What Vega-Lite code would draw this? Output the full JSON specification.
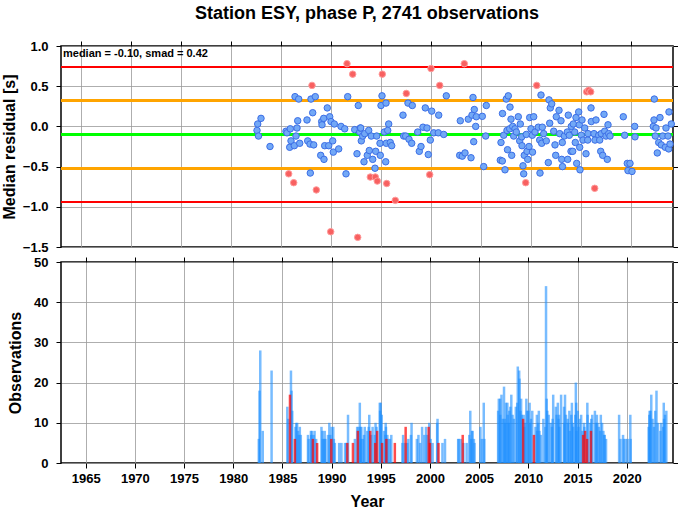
{
 "$schema": "https://vega.github.io/schema/vega-lite/v6.json",
 "padding": {"left": 0, "top": 4, "right": 1, "bottom": 0},
 "spacing": 0,
 "config": {
  "font": "Liberation Sans",
  "view": {"stroke": "#000", "strokeWidth": 1.5},
  "axis": {"labelFont": "Liberation Sans", "labelFontWeight": "bold", "labelFontSize": 13, "labelColor": "#000", "titleFont": "Liberation Sans", "titleFontSize": 16, "titleFontWeight": "bold", "titleColor": "#000", "tickColor": "#000", "tickSize": 5, "tickWidth": 1, "gridColor": "#999", "gridWidth": 0.8, "gridOpacity": 1, "domain": false}
 },
 "datasets": {
  "obs": [
   {"t":1982.6,"r":-0.05,"n":6,"k":"in"},{"t":1982.67,"r":0.03,"n":18,"k":"in"},{"t":1982.75,"r":-0.12,"n":28,"k":"in"},{"t":1983.0,"r":0.10,"n":8,"k":"in"},
   {"t":1983.9,"r":-0.25,"n":23,"k":"in"},{"t":1985.5,"r":-0.06,"n":14,"k":"in"},{"t":1985.6,"r":-0.08,"n":11,"k":"in"},{"t":1985.77,"r":-0.59,"n":17,"k":"out"},
   {"t":1985.87,"r":-0.26,"n":23,"k":"in"},{"t":1985.93,"r":-0.03,"n":18,"k":"in"},{"t":1986.0,"r":-0.18,"n":13,"k":"in"},{"t":1986.27,"r":-0.70,"n":6,"k":"out"},
   {"t":1986.33,"r":-0.24,"n":9,"k":"in"},{"t":1986.4,"r":0.37,"n":10,"k":"in"},{"t":1986.5,"r":-0.12,"n":10,"k":"in"},{"t":1986.6,"r":-0.02,"n":8,"k":"in"},
   {"t":1986.67,"r":0.07,"n":7,"k":"in"},{"t":1986.77,"r":0.34,"n":9,"k":"in"},{"t":1986.87,"r":-0.21,"n":7,"k":"in"},{"t":1987.6,"r":0.08,"n":7,"k":"in"},
   {"t":1987.67,"r":-0.18,"n":6,"k":"in"},{"t":1987.9,"r":-0.22,"n":8,"k":"in"},{"t":1987.93,"r":-0.58,"n":7,"k":"in"},{"t":1988.0,"r":0.34,"n":8,"k":"in"},
   {"t":1988.1,"r":0.51,"n":6,"k":"out"},{"t":1988.17,"r":0.17,"n":7,"k":"in"},{"t":1988.27,"r":-0.23,"n":8,"k":"in"},{"t":1988.43,"r":0.37,"n":6,"k":"in"},
   {"t":1988.53,"r":-0.79,"n":5,"k":"out"},{"t":1988.97,"r":-0.36,"n":9,"k":"in"},{"t":1989.07,"r":0.06,"n":8,"k":"in"},{"t":1989.1,"r":0.02,"n":6,"k":"in"},
   {"t":1989.27,"r":0.10,"n":6,"k":"in"},{"t":1989.3,"r":-0.41,"n":8,"k":"in"},{"t":1989.37,"r":-0.24,"n":6,"k":"in"},{"t":1989.63,"r":0.23,"n":7,"k":"in"},
   {"t":1989.77,"r":-0.24,"n":10,"k":"in"},{"t":1989.87,"r":0.12,"n":7,"k":"in"},{"t":1989.97,"r":-1.31,"n":6,"k":"out"},{"t":1990.0,"r":0.06,"n":9,"k":"in"},
   {"t":1990.17,"r":-0.18,"n":9,"k":"in"},{"t":1990.23,"r":-0.32,"n":6,"k":"in"},{"t":1990.33,"r":0.03,"n":5,"k":"in"},{"t":1990.77,"r":-0.28,"n":5,"k":"in"},
   {"t":1991.0,"r":0.0,"n":5,"k":"in"},{"t":1991.37,"r":-0.03,"n":5,"k":"in"},{"t":1991.5,"r":-0.59,"n":5,"k":"in"},{"t":1991.6,"r":0.78,"n":5,"k":"out"},
   {"t":1991.67,"r":0.37,"n":12,"k":"in"},{"t":1992.17,"r":0.65,"n":5,"k":"out"},{"t":1992.37,"r":-0.04,"n":6,"k":"in"},{"t":1992.6,"r":-0.34,"n":9,"k":"in"},
   {"t":1992.67,"r":-1.38,"n":8,"k":"out"},{"t":1992.73,"r":0.26,"n":9,"k":"in"},{"t":1992.87,"r":-0.07,"n":15,"k":"in"},{"t":1992.93,"r":-0.02,"n":9,"k":"in"},
   {"t":1992.97,"r":-0.02,"n":6,"k":"in"},{"t":1993.03,"r":-0.18,"n":9,"k":"in"},{"t":1993.17,"r":-0.12,"n":6,"k":"in"},{"t":1993.3,"r":-0.44,"n":7,"k":"in"},
   {"t":1993.37,"r":-0.09,"n":9,"k":"in"},{"t":1993.63,"r":-0.36,"n":8,"k":"in"},{"t":1993.77,"r":-0.05,"n":9,"k":"in"},{"t":1993.83,"r":-0.30,"n":12,"k":"in"},
   {"t":1993.93,"r":-0.63,"n":8,"k":"out"},{"t":1994.03,"r":-0.12,"n":7,"k":"in"},{"t":1994.17,"r":-0.41,"n":9,"k":"in"},{"t":1994.4,"r":-0.52,"n":7,"k":"in"},
   {"t":1994.43,"r":-0.63,"n":5,"k":"out"},{"t":1994.47,"r":-0.31,"n":10,"k":"in"},{"t":1994.57,"r":-0.12,"n":9,"k":"in"},{"t":1994.63,"r":-0.68,"n":8,"k":"out"},
   {"t":1994.9,"r":-0.21,"n":15,"k":"in"},{"t":1994.93,"r":-0.36,"n":13,"k":"in"},{"t":1995.0,"r":0.26,"n":15,"k":"in"},{"t":1995.1,"r":0.38,"n":12,"k":"in"},
   {"t":1995.13,"r":0.65,"n":5,"k":"out"},{"t":1995.33,"r":-0.07,"n":8,"k":"in"},{"t":1995.47,"r":-0.44,"n":7,"k":"in"},{"t":1995.5,"r":0.29,"n":10,"k":"in"},
   {"t":1995.53,"r":-0.21,"n":9,"k":"in"},{"t":1995.57,"r":-0.71,"n":6,"k":"out"},{"t":1995.67,"r":-0.05,"n":7,"k":"in"},{"t":1995.77,"r":0.03,"n":6,"k":"in"},
   {"t":1995.93,"r":-0.20,"n":6,"k":"in"},{"t":1996.07,"r":-0.24,"n":7,"k":"in"},{"t":1996.43,"r":-0.92,"n":5,"k":"out"},{"t":1997.2,"r":0.14,"n":5,"k":"in"},
   {"t":1997.27,"r":-0.12,"n":7,"k":"in"},{"t":1997.47,"r":-0.12,"n":5,"k":"in"},{"t":1997.53,"r":0.41,"n":9,"k":"out"},{"t":1997.7,"r":0.29,"n":5,"k":"in"},
   {"t":1997.8,"r":-0.16,"n":6,"k":"in"},{"t":1998.07,"r":-0.21,"n":7,"k":"in"},{"t":1998.13,"r":0.26,"n":10,"k":"in"},{"t":1998.67,"r":-0.07,"n":6,"k":"in"},
   {"t":1998.83,"r":-0.31,"n":7,"k":"in"},{"t":1999.0,"r":-0.25,"n":5,"k":"in"},{"t":1999.2,"r":-0.01,"n":9,"k":"in"},{"t":1999.43,"r":0.23,"n":7,"k":"in"},
   {"t":1999.6,"r":-0.02,"n":9,"k":"in"},{"t":1999.73,"r":-0.35,"n":7,"k":"in"},{"t":1999.87,"r":-0.60,"n":9,"k":"out"},{"t":1999.93,"r":-0.17,"n":10,"k":"in"},
   {"t":2000.0,"r":0.72,"n":5,"k":"out"},{"t":2000.07,"r":0.19,"n":6,"k":"in"},{"t":2000.27,"r":-0.08,"n":5,"k":"in"},{"t":2000.73,"r":-0.08,"n":10,"k":"in"},
   {"t":2000.77,"r":0.14,"n":11,"k":"in"},{"t":2000.87,"r":0.51,"n":5,"k":"out"},{"t":2001.27,"r":-0.10,"n":5,"k":"in"},{"t":2001.53,"r":0.38,"n":6,"k":"in"},
   {"t":2002.87,"r":-0.36,"n":6,"k":"in"},{"t":2002.93,"r":0.07,"n":6,"k":"in"},{"t":2003.13,"r":-0.37,"n":6,"k":"in"},{"t":2003.33,"r":0.78,"n":7,"k":"out"},
   {"t":2003.4,"r":-0.33,"n":5,"k":"in"},{"t":2003.73,"r":0.09,"n":5,"k":"in"},{"t":2004.0,"r":-0.39,"n":7,"k":"in"},{"t":2004.1,"r":0.14,"n":13,"k":"in"},
   {"t":2004.2,"r":0.36,"n":6,"k":"in"},{"t":2004.27,"r":-0.19,"n":8,"k":"in"},{"t":2004.33,"r":0.21,"n":8,"k":"in"},{"t":2004.47,"r":0.0,"n":6,"k":"in"},
   {"t":2004.53,"r":0.12,"n":5,"k":"in"},{"t":2005.13,"r":0.125,"n":9,"k":"in"},{"t":2005.27,"r":-0.50,"n":6,"k":"in"},{"t":2005.47,"r":-0.12,"n":15,"k":"in"},
   {"t":2005.53,"r":0.26,"n":6,"k":"in"},{"t":2006.93,"r":-0.42,"n":13,"k":"in"},{"t":2007.0,"r":-0.20,"n":16,"k":"in"},{"t":2007.13,"r":-0.43,"n":16,"k":"in"},
   {"t":2007.15,"r":0.16,"n":12,"k":"in"},{"t":2007.27,"r":-0.11,"n":17,"k":"in"},{"t":2007.4,"r":-0.54,"n":11,"k":"in"},{"t":2007.53,"r":0.34,"n":19,"k":"in"},
   {"t":2007.6,"r":-0.05,"n":11,"k":"in"},{"t":2007.65,"r":-0.29,"n":10,"k":"in"},{"t":2007.73,"r":0.38,"n":15,"k":"in"},{"t":2007.87,"r":-0.03,"n":15,"k":"in"},
   {"t":2007.9,"r":0.24,"n":12,"k":"in"},{"t":2008.0,"r":0.09,"n":10,"k":"in"},{"t":2008.07,"r":-0.36,"n":13,"k":"in"},{"t":2008.17,"r":0.0,"n":14,"k":"in"},
   {"t":2008.27,"r":-0.12,"n":17,"k":"in"},{"t":2008.4,"r":-0.03,"n":12,"k":"in"},{"t":2008.53,"r":-0.07,"n":11,"k":"in"},{"t":2008.73,"r":0.12,"n":14,"k":"in"},
   {"t":2008.87,"r":-0.18,"n":15,"k":"in"},{"t":2008.93,"r":0.03,"n":24,"k":"in"},{"t":2009.07,"r":-0.13,"n":23,"k":"in"},{"t":2009.1,"r":-0.24,"n":21,"k":"in"},
   {"t":2009.2,"r":-0.49,"n":13,"k":"in"},{"t":2009.27,"r":-0.59,"n":16,"k":"in"},{"t":2009.33,"r":-0.36,"n":12,"k":"in"},{"t":2009.47,"r":-0.70,"n":11,"k":"out"},
   {"t":2009.53,"r":-0.10,"n":12,"k":"in"},{"t":2009.6,"r":-0.31,"n":9,"k":"in"},{"t":2009.67,"r":-0.41,"n":10,"k":"in"},{"t":2009.8,"r":-0.25,"n":16,"k":"in"},
   {"t":2009.87,"r":0.11,"n":13,"k":"in"},{"t":2010.0,"r":-0.03,"n":13,"k":"in"},{"t":2010.13,"r":-0.11,"n":15,"k":"in"},{"t":2010.15,"r":-0.32,"n":10,"k":"in"},
   {"t":2010.27,"r":0.12,"n":11,"k":"in"},{"t":2010.4,"r":-0.07,"n":13,"k":"in"},{"t":2010.57,"r":0.51,"n":7,"k":"out"},{"t":2010.73,"r":-0.01,"n":9,"k":"in"},
   {"t":2010.87,"r":-0.17,"n":12,"k":"in"},{"t":2010.9,"r":-0.58,"n":8,"k":"in"},{"t":2011.0,"r":0.39,"n":10,"k":"in"},{"t":2011.07,"r":-0.21,"n":13,"k":"in"},
   {"t":2011.13,"r":-0.01,"n":8,"k":"in"},{"t":2011.27,"r":-0.09,"n":7,"k":"in"},{"t":2011.53,"r":-0.18,"n":11,"k":"in"},{"t":2011.73,"r":-0.45,"n":9,"k":"in"},
   {"t":2011.8,"r":0.33,"n":44,"k":"in"},{"t":2011.87,"r":0.04,"n":16,"k":"in"},{"t":2011.93,"r":0.23,"n":13,"k":"in"},{"t":2012.07,"r":0.28,"n":12,"k":"in"},
   {"t":2012.27,"r":-0.06,"n":10,"k":"in"},{"t":2012.4,"r":-0.23,"n":9,"k":"in"},{"t":2012.47,"r":-0.36,"n":11,"k":"in"},{"t":2012.53,"r":0.12,"n":17,"k":"in"},
   {"t":2012.8,"r":0.20,"n":14,"k":"in"},{"t":2012.87,"r":-0.09,"n":12,"k":"in"},{"t":2013.0,"r":0.07,"n":15,"k":"in"},{"t":2013.07,"r":-0.41,"n":11,"k":"in"},
   {"t":2013.13,"r":-0.20,"n":12,"k":"in"},{"t":2013.15,"r":-0.50,"n":9,"k":"in"},{"t":2013.33,"r":-0.12,"n":17,"k":"in"},{"t":2013.63,"r":-0.07,"n":14,"k":"in"},
   {"t":2013.67,"r":-0.41,"n":10,"k":"in"},{"t":2013.73,"r":0.14,"n":17,"k":"in"},{"t":2013.83,"r":-0.11,"n":12,"k":"in"},{"t":2014.0,"r":-0.31,"n":11,"k":"in"},
   {"t":2014.03,"r":0.0,"n":10,"k":"in"},{"t":2014.17,"r":-0.31,"n":13,"k":"in"},{"t":2014.23,"r":0.03,"n":8,"k":"in"},{"t":2014.37,"r":-0.07,"n":12,"k":"in"},
   {"t":2014.43,"r":-0.20,"n":15,"k":"in"},{"t":2014.5,"r":0.11,"n":10,"k":"in"},{"t":2014.57,"r":-0.46,"n":9,"k":"in"},{"t":2014.77,"r":0.18,"n":12,"k":"in"},
   {"t":2014.83,"r":0.02,"n":20,"k":"in"},{"t":2014.87,"r":-0.26,"n":15,"k":"in"},{"t":2014.9,"r":-0.54,"n":8,"k":"in"},{"t":2015.03,"r":-0.11,"n":13,"k":"in"},
   {"t":2015.1,"r":0.08,"n":9,"k":"in"},{"t":2015.2,"r":-0.17,"n":11,"k":"in"},{"t":2015.37,"r":-0.02,"n":12,"k":"in"},{"t":2015.5,"r":-0.34,"n":8,"k":"in"},
   {"t":2015.57,"r":0.43,"n":7,"k":"out"},{"t":2015.67,"r":-0.17,"n":10,"k":"in"},{"t":2015.7,"r":-0.09,"n":9,"k":"in"},{"t":2015.77,"r":0.45,"n":8,"k":"out"},
   {"t":2015.97,"r":0.43,"n":6,"k":"out"},{"t":2016.0,"r":0.23,"n":15,"k":"in"},{"t":2016.03,"r":0.06,"n":12,"k":"in"},{"t":2016.3,"r":-0.09,"n":10,"k":"in"},
   {"t":2016.37,"r":-0.77,"n":8,"k":"out"},{"t":2016.4,"r":-0.17,"n":11,"k":"in"},{"t":2016.5,"r":0.08,"n":12,"k":"in"},{"t":2016.77,"r":-0.11,"n":13,"k":"in"},
   {"t":2016.87,"r":-0.17,"n":10,"k":"in"},{"t":2016.97,"r":-0.31,"n":12,"k":"in"},{"t":2017.03,"r":-0.09,"n":10,"k":"in"},{"t":2017.17,"r":-0.36,"n":9,"k":"in"},
   {"t":2017.3,"r":0.15,"n":8,"k":"in"},{"t":2017.37,"r":-0.06,"n":12,"k":"in"},{"t":2017.5,"r":-0.12,"n":10,"k":"in"},{"t":2017.63,"r":-0.41,"n":8,"k":"in"},
   {"t":2017.7,"r":0.02,"n":7,"k":"in"},{"t":2017.77,"r":-0.09,"n":7,"k":"in"},{"t":2017.9,"r":-0.12,"n":6,"k":"in"},{"t":2019.23,"r":0.12,"n":12,"k":"in"},
   {"t":2019.37,"r":-0.11,"n":6,"k":"in"},{"t":2019.63,"r":-0.46,"n":7,"k":"in"},{"t":2019.7,"r":-0.55,"n":6,"k":"in"},{"t":2019.9,"r":-0.46,"n":6,"k":"in"},
   {"t":2020.1,"r":-0.56,"n":6,"k":"in"},{"t":2020.37,"r":0.0,"n":12,"k":"in"},{"t":2020.4,"r":-0.13,"n":6,"k":"in"},{"t":2022.23,"r":0.0,"n":9,"k":"in"},
   {"t":2022.3,"r":0.08,"n":12,"k":"in"},{"t":2022.33,"r":0.34,"n":13,"k":"in"},{"t":2022.43,"r":-0.12,"n":13,"k":"in"},{"t":2022.5,"r":-0.02,"n":17,"k":"in"},
   {"t":2022.63,"r":-0.33,"n":11,"k":"in"},{"t":2022.77,"r":-0.20,"n":9,"k":"in"},{"t":2022.9,"r":0.11,"n":13,"k":"in"},{"t":2023.03,"r":-0.23,"n":18,"k":"in"},
   {"t":2023.17,"r":-0.12,"n":10,"k":"in"},{"t":2023.43,"r":-0.26,"n":8,"k":"in"},{"t":2023.5,"r":-0.02,"n":10,"k":"in"},{"t":2023.7,"r":-0.12,"n":9,"k":"in"},
   {"t":2023.77,"r":-0.28,"n":15,"k":"in"},{"t":2023.8,"r":0.18,"n":11,"k":"in"},{"t":2023.9,"r":-0.22,"n":12,"k":"in"},{"t":2024.03,"r":0.03,"n":13,"k":"in"}
  ]
 },
 "vconcat": [
  {
   "width": 612, "height": 201,
   "title": {"text": "Station ESY, phase P, 2741 observations", "fontSize": 18, "fontWeight": "bold", "font": "Liberation Sans", "color": "#000", "anchor": "middle", "frame": "group", "offset": 17},
   "data": {"name": "obs"},
   "layer": [
    {"mark": {"type": "rule", "color": "#ff0000", "strokeWidth": 2}, "encoding": {"y": {"datum": 0.74, "type": "quantitative", "axis": null, "scale": {"domain": [-1.5, 1.0], "nice": false}}}},
    {"mark": {"type": "rule", "color": "#ff0000", "strokeWidth": 2}, "encoding": {"y": {"datum": -0.94, "type": "quantitative", "axis": null, "scale": {"domain": [-1.5, 1.0], "nice": false}}}},
    {"mark": {"type": "rule", "color": "#ffa500", "strokeWidth": 2}, "encoding": {"y": {"datum": 0.32, "type": "quantitative", "axis": null, "scale": {"domain": [-1.5, 1.0], "nice": false}}}},
    {"mark": {"type": "rule", "color": "#ffa500", "strokeWidth": 2}, "encoding": {"y": {"datum": -0.52, "type": "quantitative", "axis": null, "scale": {"domain": [-1.5, 1.0], "nice": false}}}},
    {"mark": {"type": "rule", "color": "#00ff00", "strokeWidth": 3}, "encoding": {"y": {"datum": -0.10, "type": "quantitative", "axis": null, "scale": {"domain": [-1.5, 1.0], "nice": false}}}},
    {
     "transform": [{"filter": "datum.k == 'in'"}],
     "mark": {"type": "point", "shape": "circle", "filled": true, "fill": "#72a8f6", "stroke": "#3c6ee6", "strokeWidth": 1, "size": 42, "opacity": 1},
     "encoding": {
      "x": {"field": "t", "type": "quantitative", "scale": {"domain": [1963, 2024.2], "nice": false, "zero": false}, "axis": {"orient": "bottom", "values": [1965,1970,1975,1980,1985,1990,1995,2000,2005,2010,2015,2020], "labels": false, "ticks": false, "grid": true, "title": null}},
      "y": {"field": "r", "type": "quantitative", "scale": {"domain": [-1.5, 1.0], "nice": false}, "axis": {"orient": "left", "values": [-1.5,-1.0,-0.5,0,0.5,1.0], "format": ".1f", "grid": true, "labelPadding": 8, "title": "Median residual [s]", "titlePadding": 5}}
     }
    },
    {
     "transform": [{"filter": "datum.k == 'out'"}],
     "mark": {"type": "point", "shape": "circle", "filled": true, "fill": "#f86060", "stroke": "#ff9a9a", "strokeWidth": 1, "size": 42, "opacity": 1},
     "encoding": {
      "x": {"field": "t", "type": "quantitative", "scale": {"domain": [1963, 2024.2], "nice": false, "zero": false}, "axis": {"orient": "top", "values": [1965,1970,1975,1980,1985,1990,1995,2000,2005,2010,2015,2020], "labels": false, "ticks": true, "grid": false, "title": null}},
      "y": {"field": "r", "type": "quantitative", "scale": {"domain": [-1.5, 1.0], "nice": false}, "axis": {"orient": "right", "values": [-1.5,-1.0,-0.5,0,0.5,1.0], "labels": false, "ticks": true, "grid": false, "title": null}}
     }
    },
    {
     "data": {"values": [{"t": 1963.2, "r": 0.9, "label": "median = -0.10, smad = 0.42"}]},
     "mark": {"type": "text", "align": "left", "baseline": "middle", "fontSize": 11, "fontWeight": "bold", "font": "Liberation Sans", "color": "#000"},
     "encoding": {
      "x": {"field": "t", "type": "quantitative", "axis": null, "scale": {"domain": [1963, 2024.2], "nice": false, "zero": false}},
      "y": {"field": "r", "type": "quantitative", "axis": null, "scale": {"domain": [-1.5, 1.0], "nice": false}},
      "text": {"field": "label"}
     }
    }
   ],
   "resolve": {"axis": {"x": "independent", "y": "independent"}}
  },
  {
   "width": 612, "height": 201,
   "data": {"name": "obs"},
   "layer": [
    {
     "transform": [{"filter": "datum.k == 'in'"}],
     "mark": {"type": "bar", "orient": "vertical", "size": 2.5, "color": "#1e90ff", "opacity": 0.6},
     "encoding": {
      "x": {"field": "t", "type": "quantitative", "scale": {"domain": [1963, 2024.2], "nice": false, "zero": false}, "axis": {"orient": "bottom", "values": [1965,1970,1975,1980,1985,1990,1995,2000,2005,2010,2015,2020], "format": "d", "labelPadding": 4, "grid": true, "title": "Year", "titlePadding": 8}},
      "y": {"field": "n", "type": "quantitative", "scale": {"domain": [0, 50], "nice": false}, "axis": {"orient": "left", "values": [0,10,20,30,40,50], "grid": true, "labelPadding": 8, "title": "Observations", "titlePadding": 10}}
     }
    },
    {
     "transform": [{"filter": "datum.k == 'out'"}],
     "mark": {"type": "bar", "orient": "vertical", "size": 2.5, "color": "#ff0000", "opacity": 0.7},
     "encoding": {
      "x": {"field": "t", "type": "quantitative", "scale": {"domain": [1963, 2024.2], "nice": false, "zero": false}, "axis": {"orient": "top", "values": [1965,1970,1975,1980,1985,1990,1995,2000,2005,2010,2015,2020], "labels": false, "ticks": true, "grid": false, "title": null}},
      "y": {"field": "n", "type": "quantitative", "scale": {"domain": [0, 50], "nice": false}, "axis": {"orient": "right", "values": [0,10,20,30,40,50], "labels": false, "ticks": true, "grid": false, "title": null}}
     }
    }
   ],
   "resolve": {"axis": {"x": "independent", "y": "independent"}}
  }
 ]
}
